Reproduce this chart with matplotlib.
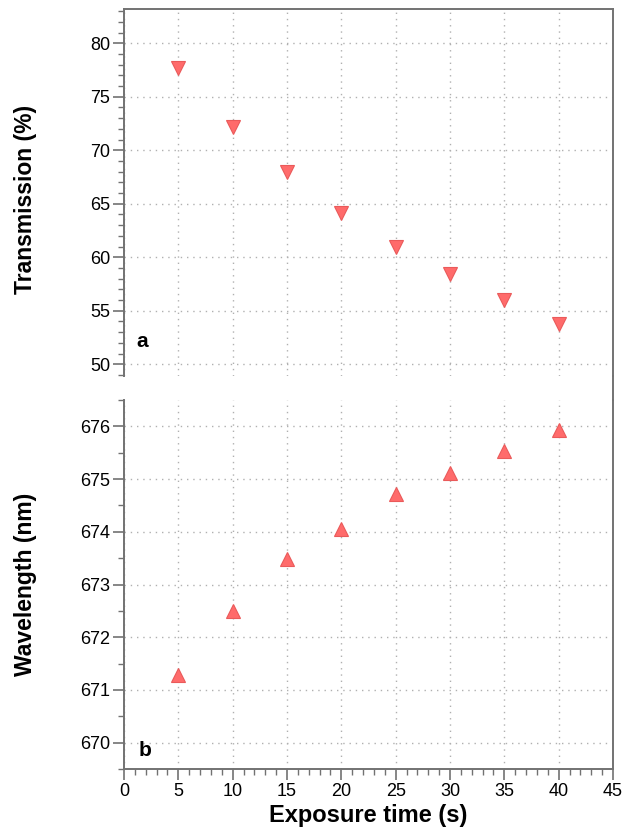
import matplotlib
matplotlib.use("Agg")
import matplotlib.pyplot as plt
from matplotlib.ticker import MultipleLocator
from matplotlib.lines import Line2D

plt.rcParams['font.family'] = ['Liberation Sans', 'DejaVu Sans']

exposure = [5, 10, 15, 20, 25, 30, 35, 40]
transmission = [77.7, 72.2, 68.0, 64.1, 61.0, 58.4, 56.0, 53.8]
wavelength = [671.29, 672.49, 673.48, 674.05, 674.72, 675.11, 675.53, 675.94]

W, H = 626, 831
fig = plt.figure(figsize=(W / 100, H / 100), dpi=100)

L, R = 124 / W, 613 / W
ax1 = fig.add_axes([L, 1 - 376 / H, R - L, (376 - 9) / H])
ax2 = fig.add_axes([L, 1 - 769 / H, R - L, (769 - 400) / H])

spine_col = '#727272'
grid_kw = dict(color='#b0b0b0', linestyle=(0, (1, 3.5)), linewidth=1.0)
mface = '#ff6b6b'
medge = '#ea5a5a'

for ax in (ax1, ax2):
    ax.set_xlim(0, 45)
    ax.xaxis.set_major_locator(MultipleLocator(5))
    ax.xaxis.set_minor_locator(MultipleLocator(1))
    for s in ax.spines.values():
        s.set_color(spine_col)
        s.set_linewidth(1.4)
    ax.tick_params(axis='both', which='major', length=8, width=1.2, color=spine_col,
                   labelsize=13, pad=2, direction='out')
    ax.tick_params(axis='both', which='minor', length=4, width=1.0, color=spine_col,
                   direction='out')
    ax.grid(True, which='major', **grid_kw)
    ax.set_axisbelow(True)

# Top panel
ax1.plot(exposure, transmission, linestyle='none', marker='v', markersize=10.5,
         markerfacecolor=mface, markeredgecolor=medge, markeredgewidth=0.8, zorder=3)
ax1.set_ylim(48.9, 83.2)
ax1.yaxis.set_major_locator(MultipleLocator(5))
ax1.yaxis.set_minor_locator(MultipleLocator(1))
ax1.spines['bottom'].set_visible(False)
ax1.tick_params(axis='x', which='both', bottom=False, labelbottom=False, top=False)
ax1.set_ylabel('Transmission (%)', fontsize=16.5, fontweight='bold')
ax1.yaxis.set_label_coords(-0.178, 0.48)
ax1.text(0.025, 0.08, 'a', transform=ax1.transAxes, fontsize=15, fontweight='bold')

# Bottom panel
ax2.plot(exposure, wavelength, linestyle='none', marker='^', markersize=10.5,
         markerfacecolor=mface, markeredgecolor=medge, markeredgewidth=0.8, zorder=3)
ax2.set_ylim(669.5, 676.5)
ax2.yaxis.set_major_locator(MultipleLocator(1))
ax2.yaxis.set_minor_locator(MultipleLocator(0.5))
ax2.spines['top'].set_visible(False)
ax2.set_ylabel('Wavelength (nm)', fontsize=16.5, fontweight='bold')
ax2.yaxis.set_label_coords(-0.178, 0.5)
ax2.set_xlabel('Exposure time (s)', fontsize=17, fontweight='bold', labelpad=3)
ax2.text(0.03, 0.035, 'b', transform=ax2.transAxes, fontsize=15, fontweight='bold')

# bridge right spine across the gap
p1 = ax1.get_position()
p2 = ax2.get_position()
fig.add_artist(Line2D([p1.x1, p1.x1], [p2.y1, p1.y0], transform=fig.transFigure,
                      color=spine_col, linewidth=1.4))

fig.savefig('out.png', dpi=100)
